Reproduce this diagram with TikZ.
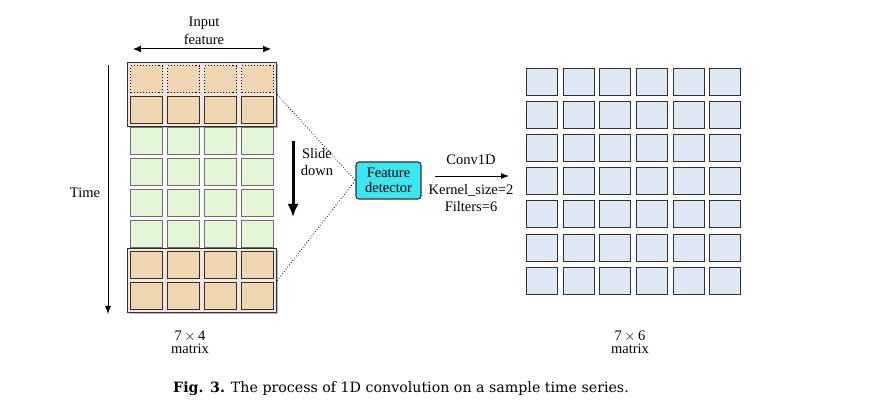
\documentclass[tikz,border=0pt]{standalone}
\usepackage{fontspec}
\setmainfont{Liberation Serif}
\newfontfamily\capfont{DejaVu Serif}
\usetikzlibrary{arrows.meta}
\definecolor{tanfill}{HTML}{EFD6B0}
\definecolor{outerfill}{HTML}{F4E6DE}
\definecolor{greenfill}{HTML}{E3F6D8}
\definecolor{bluefill}{HTML}{DEE9F5}
\definecolor{cyanfill}{HTML}{3BE6F0}
\definecolor{edge}{HTML}{303030}
\tikzset{
  txt/.style={font=\rmfamily\fontsize{14.5}{14.5}\selectfont, inner sep=0pt, align=center},
  cellbase/.style={anchor=north west, minimum width=32pt, minimum height=27pt, inner sep=0pt, line width=1.1pt},
  tancell/.style={cellbase, fill=tanfill, draw=edge},
  dotcell/.style={cellbase, fill=tanfill, draw=black, dotted, line width=1.1pt},
  greencell/.style={cellbase, fill=greenfill, draw=edge!70, line width=0.9pt},
  bluecell/.style={anchor=north west, minimum width=31pt, minimum height=27pt, inner sep=0pt, fill=bluefill, draw=edge, line width=1.1pt},
  outerbox/.style={anchor=north west, minimum width=149pt, minimum height=64pt, inner sep=0pt, fill=outerfill, draw=edge, line width=1.1pt},
  shadowbox/.style={anchor=north west, minimum width=149pt, minimum height=64pt, inner sep=0pt, fill=black!25, draw=none},
  fdbox/.style={draw=edge, fill=cyanfill, rounded corners=3pt, line width=1.1pt, minimum width=65pt, minimum height=37pt, inner sep=0pt, align=center, font=\rmfamily\fontsize{14.5}{15.5}\selectfont},
  thinarrow/.style={line width=0.8pt, -{Latex[length=8pt,width=6pt]}},
  dblarrow/.style={line width=1pt, {Latex[length=8pt,width=7pt]}-{Latex[length=8pt,width=7pt]}},
  slidearrow/.style={line width=3pt, -{Latex[length=13pt,width=11pt]}},
  link/.style={dotted, line width=0.8pt}
}
\begin{document}
\begin{tikzpicture}[x=1pt,y=-1pt]
\useasboundingbox (0,0) rectangle (889,419);
% outer highlight boxes with shadows
\node[shadowbox] (topshadow) at (129,64) {};
\node[outerbox] (topbox) at (127,62) {};
\node[shadowbox] (botshadow) at (129,250) {};
\node[outerbox] (botbox) at (127,248) {};
% left matrix
\foreach \j in {0,...,3} {
  \node[dotcell] (L0\j) at ({130+37*\j},65) {};
  \node[tancell] (L1\j) at ({130+37*\j},96) {};
  \foreach \i in {2,...,5} {
    \node[greencell] (L\i\j) at ({130+37*\j},{65+31*\i}) {};
  }
  \node[tancell] (L6\j) at ({130+37*\j},251) {};
  \node[tancell] (L7\j) at ({130+37*\j},282) {};
}
% right matrix
\foreach \i/\y in {0/68,1/101,2/134,3/167,4/200,5/234,6/267} {
  \foreach \j/\x in {0/526,1/563,2/599,3/636,4/673,5/709} {
    \node[bluecell] (R\i\j) at (\x,\y) {};
  }
}
% labels
\node[txt] (inputlbl) at (204,31) {Input\\[3pt]feature};
\coordinate (inA) at (133,49);
\coordinate (inB) at (271,49);
\draw[dblarrow] (inA) -- (inB);
\coordinate (tA) at (108,65);
\coordinate (tB) at (108,314);
\draw[thinarrow] (tA) -- (tB);
\node[txt] (timelbl) at (85,193) {Time};
\coordinate (sA) at (293,141);
\coordinate (sB) at (293,217);
\draw[slidearrow] (sA) -- (sB);
\node[txt] (slidelbl) at (317,162) {Slide\\[3pt]down};
\node[fdbox] (fd) at (388.5,180.5) {Feature\\detector};
\draw[link] (topbox.east) -- (fd.west);
\draw[link] (botbox.east) -- (fd.west);
\coordinate (cA) at (435,176);
\coordinate (cB) at (509,176);
\draw[thinarrow] (cA) -- (cB);
\node[txt] (convlbl) at (471,160) {Conv1D};
\node[txt] (kernlbl) at (471,190) {Kernel\_size=2};
\node[txt] (filtlbl) at (471,207) {Filters=6};
\node[txt] (lm1) at (190,336) {7\,$\times$\,4};
\node[txt] (lm2) at (190,349) {matrix};
\node[txt] (rm1) at (630,336) {7\,$\times$\,6};
\node[txt] (rm2) at (630,349) {matrix};
\node[inner sep=0pt, font=\capfont\fontsize{14.2}{15}\selectfont] (cap) at (401,389) {\textbf{Fig. 3.} The process of 1D convolution on a sample time series.};
\end{tikzpicture}
\end{document}
